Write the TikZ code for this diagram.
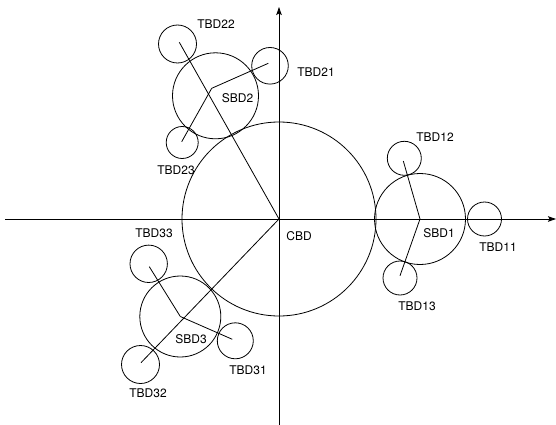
\documentclass[tikz,border=0pt]{standalone}
\usepackage{fontspec}
\setmainfont{TeX Gyre Heros}
\usetikzlibrary{arrows.meta}
\begin{document}
\begin{tikzpicture}[x=1pt,y=-1pt,
  ln/.style={line width=0.8pt, black},
  bub/.style={circle, draw, line width=0.8pt, inner sep=0pt, minimum size=#1},
  lbl/.style={font=\fontsize{12}{14}\selectfont, inner sep=0pt},
  axis/.style={line width=0.8pt, -{Stealth[length=8pt,width=5.5pt,inset=1.5pt]}}]
\useasboundingbox (0,0) rectangle (556,425);
% axes
\coordinate (xl) at (5,219);
\coordinate (xr) at (556,219);
\coordinate (yb) at (279,425);
\coordinate (yt) at (279,7);
\draw[axis] (xl) -- (xr);
\draw[axis] (yb) -- (yt);
% central
\node[bub=194pt] (cbd) at (279,219) {};
\node[lbl] (cbdl) at (299,236) {CBD};
% SBD1 group
\node[bub=91pt] (sbd1) at (420,219) {};
\node[lbl] (sbd1l) at (439,233) {SBD1};
\node[bub=34pt] (tbd11) at (484.5,219) {};
\node[lbl] (tbd11l) at (498,247) {TBD11};
\node[bub=34pt] (tbd12) at (404.3,158.3) {};
\node[lbl] (tbd12l) at (435,137) {TBD12};
\node[bub=34pt] (tbd13) at (400,278) {};
\node[lbl] (tbd13l) at (417,306) {TBD13};
\coordinate (e12) at (403.3,161);
\coordinate (e13) at (400,275.7);
\draw[ln] (sbd1.center) -- (e12);
\draw[ln] (sbd1.center) -- (e13);
% SBD2 group
\node[bub=86pt] (sbd2) at (215.5,95.8) {};
\node[lbl] (sbd2l) at (237.5,98.5) {SBD2};
\coordinate (j2) at (211.7,88.3);
\node[bub=38pt] (tbd22) at (177.5,44) {};
\node[lbl] (tbd22l) at (216,24) {TBD22};
\node[bub=36.6pt] (tbd21) at (270,65.8) {};
\node[lbl] (tbd21l) at (316,72) {TBD21};
\node[bub=32pt] (tbd23) at (182.2,142.5) {};
\node[lbl] (tbd23l) at (176,170) {TBD23};
\coordinate (e22) at (179.3,42.3);
\coordinate (e21) at (268.3,63.3);
\coordinate (e23) at (181.7,141.7);
\draw[ln] (cbd.center) -- (e22);
\draw[ln] (j2) -- (e21);
\draw[ln] (j2) -- (e23);
% SBD3 group
\node[bub=81pt] (sbd3) at (180.3,316.5) {};
\node[lbl] (sbd3l) at (191,339) {SBD3};
\node[bub=36pt] (tbd31) at (235.3,340.8) {};
\node[lbl] (tbd31l) at (248,370) {TBD31};
\node[bub=38pt] (tbd32) at (140.5,364.5) {};
\node[lbl] (tbd32l) at (148,393.5) {TBD32};
\node[bub=37.4pt] (tbd33) at (148.7,263.8) {};
\node[lbl] (tbd33l) at (154,233) {TBD33};
\coordinate (e31) at (232.3,339.3);
\coordinate (e32) at (141,362.7);
\coordinate (e33) at (149.3,266.7);
\draw[ln] (cbd.center) -- (e32);
\draw[ln] (sbd3.center) -- (e31);
\draw[ln] (sbd3.center) -- (e33);
\end{tikzpicture}
\end{document}
